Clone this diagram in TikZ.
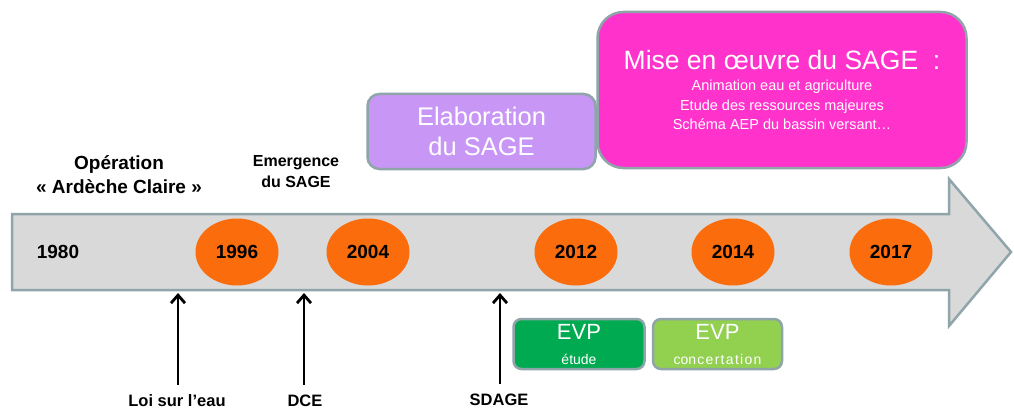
\documentclass[tikz,border=0pt]{standalone}
\usepackage{fontspec}
\setmainfont{Liberation Sans}
\usetikzlibrary{arrows.meta,shapes.geometric}
\definecolor{yearorange}{RGB}{250,108,12}
\definecolor{tlgray}{RGB}{217,217,217}
\definecolor{tledge}{RGB}{143,165,170}
\definecolor{lavender}{RGB}{200,150,245}
\definecolor{pinkbox}{RGB}{255,51,204}
\definecolor{evpdark}{RGB}{0,170,80}
\definecolor{evplight}{RGB}{146,208,80}
\tikzset{
  timeline/.style={fill=tlgray,draw=tledge,line width=2.5pt,line join=miter},
  year/.style={ellipse,fill=yearorange,minimum width=83pt,minimum height=67pt,inner sep=0pt,
    font=\bfseries\fontsize{19}{20}\selectfont},
  toplabel/.style={font=\bfseries\fontsize{19}{24}\selectfont,align=center},
  emlabel/.style={font=\bfseries\fontsize{16}{21}\selectfont,align=center},
  botlabel/.style={font=\bfseries\fontsize{16.5}{20}\selectfont,inner sep=1pt},
  phase/.style={draw=tledge,line width=2.5pt,text=white,align=center,inner sep=0pt},
  uparrow/.style={line width=2.8pt,-{Straight Barb[length=8pt,width=14pt,line width=2.8pt]}}
}
\begin{document}
\begin{tikzpicture}[x=1pt,y=-1pt]
\useasboundingbox (0,0) rectangle (1014,409);
\fill[white] (0,0) rectangle (1014,409);
% timeline arrow
\draw[timeline] (12,214) -- (949,214) -- (949,179) -- (1011,252) -- (949,326) -- (949,290) -- (12,290) -- cycle;
% years
\node[font=\bfseries\fontsize{19}{20}\selectfont] (y1980) at (58,252) {1980};
\node[year] (y1996) at (237,252) {1996};
\node[year] (y2004) at (368,252) {2004};
\node[year] (y2012) at (576,252) {2012};
\node[year] (y2014) at (733,252) {2014};
\node[year] (y2017) at (891,252) {2017};
% top labels
\node[toplabel] (ardeche) at (119,175) {Opération\\« Ardèche Claire »};
\node[emlabel] (emergence) at (296,172) {Emergence\\du SAGE};
% phase boxes
\node[phase,fill=lavender,rounded corners=12pt,minimum width=228pt,minimum height=75pt,
  font=\fontsize{25.5}{30}\selectfont] (elab) at (481.5,131.5) {Elaboration\\du SAGE};
\node[phase,fill=pinkbox,rounded corners=26pt,minimum width=369pt,minimum height=156pt,
  font=\fontsize{14.5}{19.5}\selectfont] (mise) at (782,90)
  {{\fontsize{26.5}{30}\selectfont Mise en œuvre du SAGE\ \ :}\\[2pt]
   Animation eau et agriculture\\Etude des ressources majeures\\Schéma AEP du bassin versant…};
\node[phase,fill=evpdark,rounded corners=8pt,minimum width=131pt,minimum height=50pt,
  font=\fontsize{14}{25}\selectfont] (evp1) at (579,344)
  {{\fontsize{22}{24}\selectfont EVP}\\étude};
\node[phase,fill=evplight,rounded corners=8pt,minimum width=129pt,minimum height=50pt,
  font=\fontsize{14}{25}\selectfont] (evp2) at (717.5,344)
  {{\fontsize{22}{24}\selectfont EVP}\\con\hspace{1.3pt}c\hspace{1.3pt}e\hspace{1.3pt}r\hspace{1.3pt}t\hspace{1.3pt}a\hspace{1.3pt}t\hspace{1.3pt}i\hspace{1.3pt}o\hspace{1.3pt}n};
% bottom labels and arrows
\node[botlabel] (loi) at (177,401) {Loi sur l’eau};
\node[botlabel] (dce) at (305,401) {DCE};
\node[botlabel] (sdage) at (499,400) {SDAGE};
\coordinate (aloi) at (178,293);
\coordinate (adce) at (304,293);
\coordinate (asdage) at (500,293);
\draw[uparrow] (loi.north -| aloi) ++(0,-9) -- (aloi);
\draw[uparrow] (dce.north -| adce) ++(0,-9) -- (adce);
\draw[uparrow] (sdage.north -| asdage) ++(0,-9) -- (asdage);
\end{tikzpicture}
\end{document}
